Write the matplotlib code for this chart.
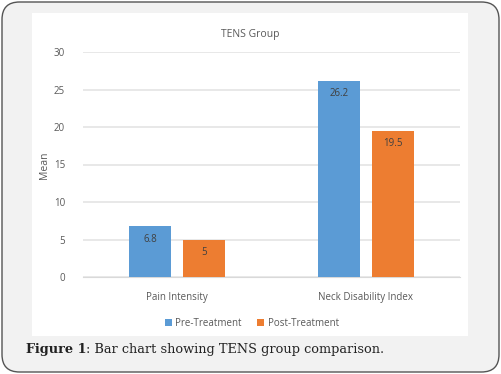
import matplotlib
matplotlib.use('Agg')
from matplotlib import pyplot as plt
from matplotlib.patches import FancyBboxPatch, Rectangle, Patch
import numpy as np

# chart data
categories = ['Pain Intensity', 'Neck Disability Index']
series_names = ['Pre-Treatment', 'Post-Treatment']
pre_values = [6.8, 26.2]
post_values = [5, 19.5]
value_labels = [['6.8', '26.2'], ['5', '19.5']]
y_ticks = [0, 5, 10, 15, 20, 25, 30]

W, H = 501, 374
blue = '#5B9BD5'
orange = '#ED7D31'
grey_text = '#595959'

def px_rect(x0, y0, x1, y1):
    # pixel box (top-left origin) -> figure fraction [l, b, w, h]
    return [x0 / W, 1 - y1 / H, (x1 - x0) / W, (y1 - y0) / H]

fig = plt.figure(figsize=(W / 100, H / 100), dpi=100)
fig.patch.set_facecolor('white')

# rounded outer frame and white chart area (behind the axes)
frame = FancyBboxPatch((2 / W, 2 / H), (W - 4) / W, (H - 4) / H,
                       boxstyle='round,pad=0,rounding_size=0.035',
                       transform=fig.transFigure, facecolor='#f2f2f2',
                       edgecolor='#555555', linewidth=1.0, mutation_aspect=W / H,
                       zorder=-2)
fig.patches.append(frame)
l, b, w, h = px_rect(32, 13, 468, 336)
fig.patches.append(Rectangle((l, b), w, h, transform=fig.transFigure,
                             facecolor='white', edgecolor='none', zorder=-1))

ax = fig.add_axes(px_rect(83, 52, 460, 277))
ax.set_facecolor('none')
ax.set_zorder(1)

x = np.arange(len(categories))
bar_w = 0.223
offset = 0.143
bars_pre = ax.bar(x - offset, pre_values, bar_w, color=blue, zorder=3)
bars_post = ax.bar(x + offset, post_values, bar_w, color=orange, zorder=3)

for bars, labels in [(bars_pre, value_labels[0]), (bars_post, value_labels[1])]:
    for rect, lab in zip(bars, labels):
        ax.annotate(lab, (rect.get_x() + rect.get_width() / 2, rect.get_height()),
                    xytext=(0, -9.5), textcoords='offset points',
                    ha='center', va='center', fontsize=7, color='#404040',
                    family='Open Sans', zorder=4)

ax.set_xlim(-0.5, 1.5)
ax.set_ylim(0, 30)
ax.set_yticks(y_ticks)
ax.set_yticklabels([str(t) for t in y_ticks], fontsize=7, color=grey_text, family='Open Sans')
ax.set_xticks(x)
ax.set_xticklabels(categories, fontsize=7, color=grey_text, family='Open Sans')
ax.tick_params(axis='both', length=0)
ax.tick_params(axis='y', pad=13)
ax.tick_params(axis='x', pad=11)
ax.grid(axis='y', color='#e4e4e4', linewidth=1.2, zorder=0)
ax.set_axisbelow(True)
for s in ['top', 'right', 'left']:
    ax.spines[s].set_visible(False)
ax.spines['bottom'].set_color('#d9d9d9')
ax.spines['bottom'].set_zorder(0)

fig.text(250 / W, 1 - 34 / H, 'TENS Group', ha='center', va='center',
         fontsize=7.5, color=grey_text, family='Open Sans')
fig.text(45 / W, 1 - 165 / H, 'Mean', ha='center', va='center', rotation=90,
         fontsize=7.5, color=grey_text, family='Open Sans')

handles = [Patch(facecolor=blue), Patch(facecolor=orange)]
leg = fig.legend(handles, series_names, loc='center', ncol=2,
                 bbox_to_anchor=(252 / W, 1 - 323 / H), frameon=False,
                 prop={'family': 'Open Sans', 'size': 7},
                 handlelength=0.7, handleheight=0.7, handletextpad=0.4,
                 columnspacing=1.6)
for t in leg.get_texts():
    t.set_color(grey_text)

# caption: bold "Figure 1" followed by the regular text
bold = fig.text(26 / W, 1 - 350 / H, 'Figure 1', ha='left', va='center', fontsize=9.3,
                color='#222222', family='DejaVu Serif', weight='bold')
renderer = fig.canvas.get_renderer()
bb = bold.get_window_extent(renderer)
fig.text(bb.x1 / W, 1 - 350 / H, ': Bar chart showing TENS group comparison.',
         ha='left', va='center', fontsize=9.3, color='#222222', family='DejaVu Serif')

fig.savefig('out.png', dpi=100)
